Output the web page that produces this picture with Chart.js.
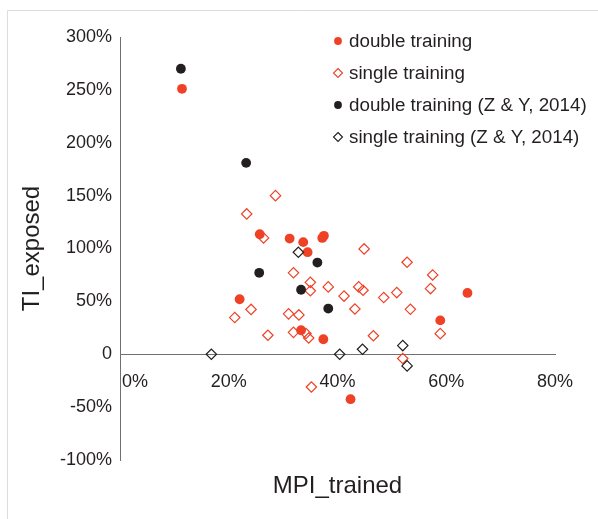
<!DOCTYPE html>
<html>
<head>
<meta charset="utf-8">
<script src="https://cdn.jsdelivr.net/npm/chart.js@4.4.1/dist/chart.umd.min.js"></script>
<style>
html,body{margin:0;padding:0;background:#fff;}
#wrap{width:598px;height:519px;position:relative;}
</style>
</head>
<body>
<div id="wrap"><canvas id="c" width="598" height="519"></canvas></div>
<script>
// ---- data (fractions: 0.25 = 25%) ----
const doubleX = [0.114, 0.257, 0.312, 0.337, 0.345, 0.372, 0.375, 0.220, 0.333, 0.374, 0.424, 0.589, 0.639];
const doubleY = [2.51, 1.135, 1.094, 1.06, 0.965, 1.10, 1.12, 0.52, 0.227, 0.142, -0.425, 0.32, 0.58];

const singleX = [0.286, 0.233, 0.264, 0.449, 0.528, 0.575, 0.319, 0.350, 0.350, 0.383, 0.412, 0.439, 0.447, 0.485, 0.509, 0.571, 0.534, 0.432, 0.211, 0.241, 0.310, 0.329, 0.272, 0.319, 0.342, 0.347, 0.466, 0.589, 0.520, 0.352];
const singleY = [1.50, 1.327, 1.10, 0.996, 0.87, 0.75, 0.77, 0.68, 0.60, 0.637, 0.55, 0.637, 0.605, 0.536, 0.583, 0.621, 0.425, 0.428, 0.347, 0.424, 0.382, 0.372, 0.18, 0.207, 0.196, 0.154, 0.175, 0.195, -0.04, -0.31];

const zyDoubleX = [0.112, 0.232, 0.256, 0.363, 0.333, 0.383];
const zyDoubleY = [2.70, 1.81, 0.77, 0.867, 0.61, 0.432];

const zySingleX = [0.168, 0.328, 0.404, 0.446, 0.520, 0.528];
const zySingleY = [0.0, 0.965, 0.0, 0.047, 0.082, -0.11];

const seriesNames = ['double training', 'single training', 'double training (Z & Y, 2014)', 'single training (Z & Y, 2014)'];
const xTickValues = [0, 0.2, 0.4, 0.6, 0.8];
const yTickValues = [-1, -0.5, 0, 0.5, 1, 1.5, 2, 2.5, 3];
const xTitle = 'MPI_trained';
const yTitle = 'TI_exposed';

const ORANGE = '#ee4126';
const BLACK = '#231f20';
const AXIS = '#707070';
const FONT = "'Liberation Sans', Arial, sans-serif";

function pts(xs, ys){ return xs.map((x,i)=>({x:x, y:ys[i]})); }
function pct(v){ return Math.round(v*100) + '%'; }

const legendPlugin = {
  id: 'customLegend',
  afterDraw(chart){
    const ctx = chart.ctx;
    const items = chart.data.datasets.map(d => d);
    const mx = 338, tx = 349, y0 = 41, dy = 32;
    ctx.save();
    ctx.font = '18.8px ' + FONT;
    ctx.textBaseline = 'middle';
    ctx.textAlign = 'left';
    items.forEach((d, i) => {
      const y = y0 + i*dy;
      ctx.beginPath();
      if (d.pointStyle === 'circle') {
        ctx.arc(mx, y, 3.9, 0, Math.PI*2);
        ctx.fillStyle = d.backgroundColor;
        ctx.fill();
      } else {
        const r = 4.5;
        ctx.moveTo(mx, y - r); ctx.lineTo(mx + r, y); ctx.lineTo(mx, y + r); ctx.lineTo(mx - r, y); ctx.closePath();
        ctx.lineWidth = 1.1;
        ctx.strokeStyle = d.borderColor;
        ctx.stroke();
      }
      ctx.fillStyle = BLACK;
      ctx.fillText(d.label, tx, y + 1);
    });
    ctx.restore();
  }
};

const framePlugin = {
  id: 'frame',
  beforeDraw(chart){
    const ctx = chart.ctx;
    ctx.save();
    ctx.strokeStyle = '#dddddd';
    ctx.lineWidth = 1;
    ctx.beginPath();
    ctx.moveTo(7.5, 519); ctx.lineTo(7.5, 10.5); ctx.lineTo(598, 10.5);
    ctx.stroke();
    ctx.restore();
  }
};

new Chart(document.getElementById('c'), {
  type: 'scatter',
  data: {
    datasets: [
      { label: seriesNames[0], data: pts(doubleX, doubleY), pointStyle: 'circle', pointRadius: 4.9, backgroundColor: ORANGE, borderColor: ORANGE, borderWidth: 0, order: 4 },
      { label: seriesNames[1], data: pts(singleX, singleY), pointStyle: 'rectRot', pointRadius: 5.2, backgroundColor: 'rgba(255,255,255,0)', borderColor: ORANGE, borderWidth: 1.2, order: 3 },
      { label: seriesNames[2], data: pts(zyDoubleX, zyDoubleY), pointStyle: 'circle', pointRadius: 4.9, backgroundColor: BLACK, borderColor: BLACK, borderWidth: 0, order: 2 },
      { label: seriesNames[3], data: pts(zySingleX, zySingleY), pointStyle: 'rectRot', pointRadius: 5.2, backgroundColor: 'rgba(255,255,255,0)', borderColor: BLACK, borderWidth: 1.2, order: 1 }
    ]
  },
  options: {
    responsive: false,
    animation: false,
    devicePixelRatio: 1,
    layout: { padding: { left: 0, top: 37, right: 43, bottom: 0 } },
    plugins: { legend: { display: false }, tooltip: { enabled: false } },
    elements: { point: { hoverRadius: 5 } },
    scales: {
      x: {
        type: 'linear',
        position: { y: 0 },
        min: 0, max: 0.8,
        afterBuildTicks: (s) => { s.ticks = xTickValues.map(v => ({ value: v })); },
        grid: { display: false, drawTicks: false },
        border: { display: true, color: AXIS, width: 1 },
        ticks: {
          padding: 17,
          color: BLACK,
          font: { family: FONT, size: 18 },
          maxRotation: 0,
          autoSkip: false,
          callback: (v) => v === 0 ? '      0%' : pct(v)
        }
      },
      xt: {
        type: 'linear',
        position: 'bottom',
        min: 0, max: 0.8,
        grid: { display: false, drawTicks: false },
        border: { display: false },
        ticks: { display: false },
        afterFit: (s) => { s.height = 59; },
        title: { display: true, text: xTitle, color: BLACK, font: { family: FONT, size: 24 }, padding: { top: 0, bottom: 18 } }
      },
      y: {
        type: 'linear',
        position: 'left',
        min: -1, max: 3,
        afterBuildTicks: (s) => { s.ticks = yTickValues.map(v => ({ value: v })); },
        afterFit: (s) => { s.width = 120; },
        grid: { display: false, drawTicks: false },
        border: { display: true, color: AXIS, width: 1 },
        ticks: {
          padding: 8,
          color: BLACK,
          font: { family: FONT, size: 18 },
          autoSkip: false,
          callback: (v) => v === 0 ? '0' : pct(v)
        },
        title: { display: true, text: yTitle, color: BLACK, font: { family: FONT, size: 24 }, padding: { top: 18, bottom: 0 } }
      }
    }
  },
  plugins: [framePlugin, legendPlugin]
});
</script>
</body>
</html>
